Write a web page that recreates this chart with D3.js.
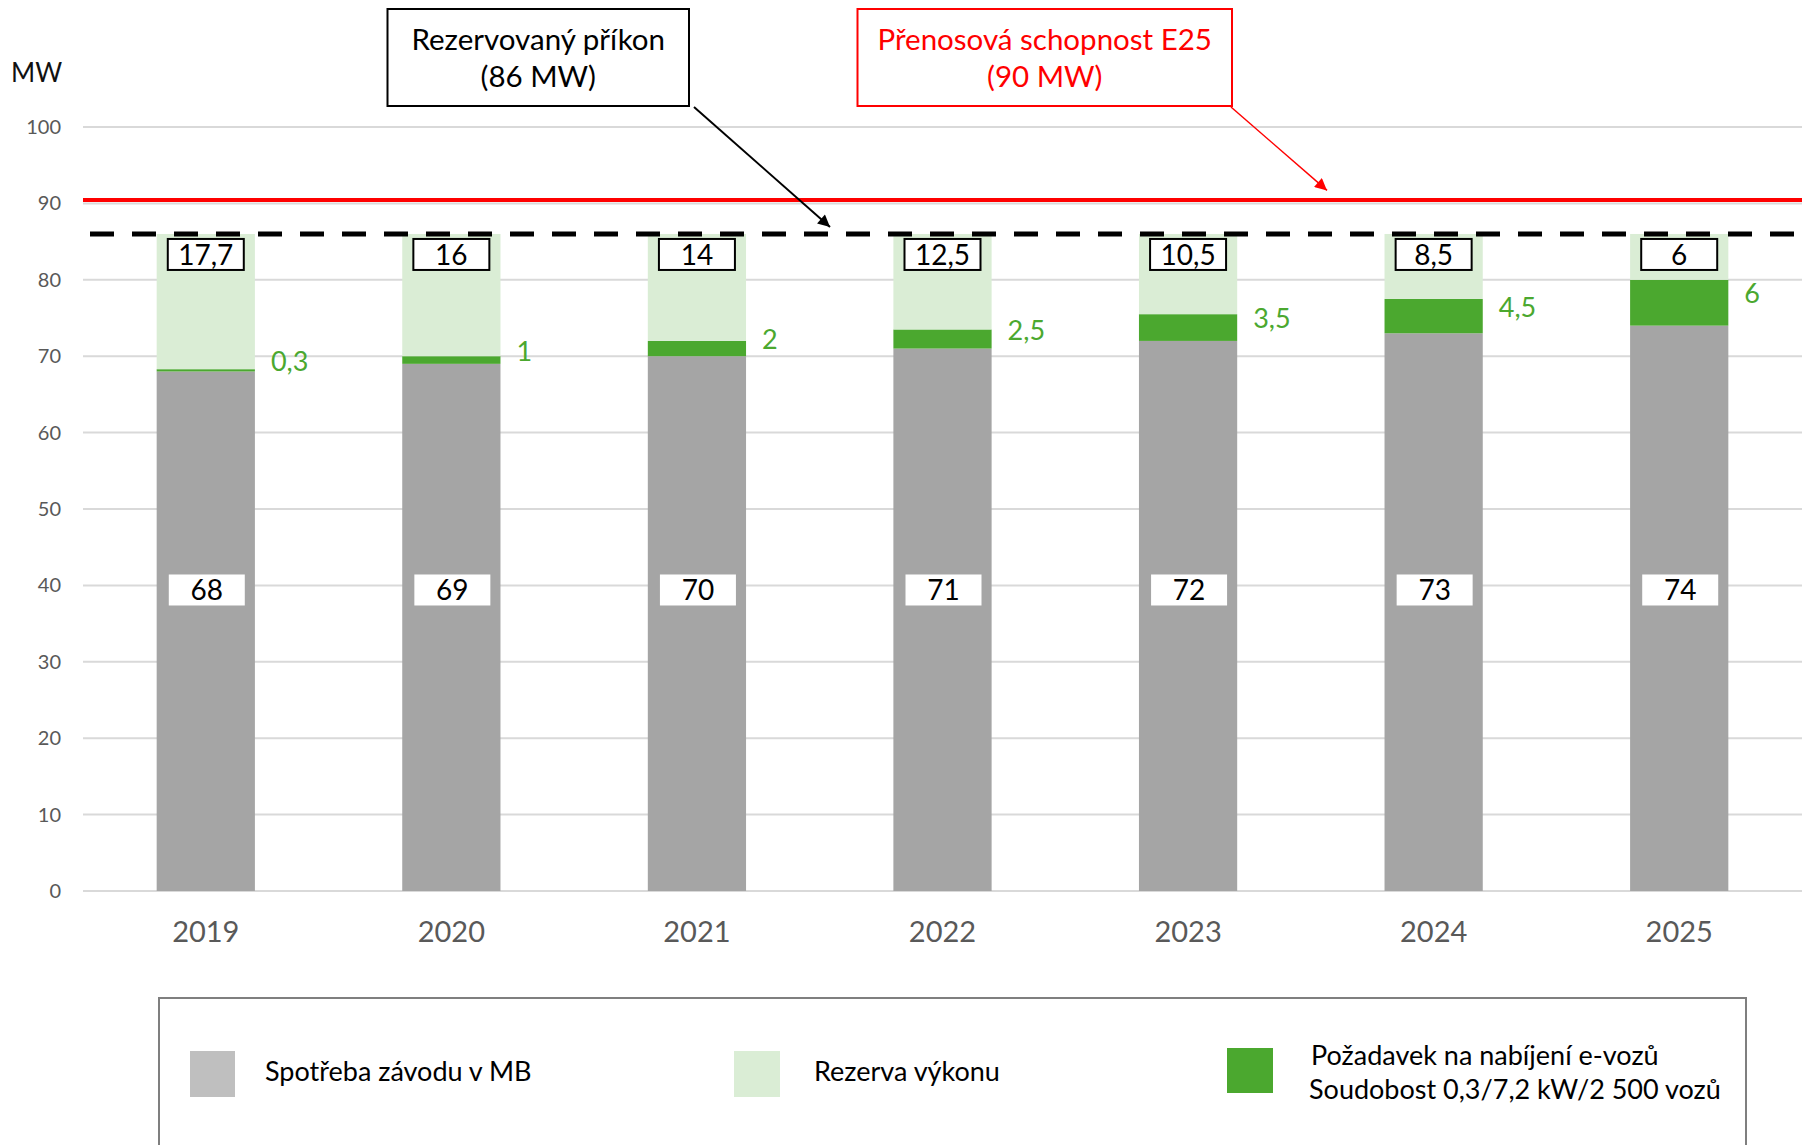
<!DOCTYPE html>
<html><head><meta charset="utf-8">
<script src="https://cdn.jsdelivr.net/npm/d3@7"></script>
<style>body{margin:0;background:#fff}svg{display:block;font-family:Lato,"Open Sans",sans-serif}</style>
</head><body><svg id="c" width="1802" height="1145"></svg>
<script>
const years = ["2019","2020","2021","2022","2023","2024","2025"];
const consumption = [68,69,70,71,72,73,74];
const charging = [0.3,1,2,2.5,3.5,4.5,6];
const reserve = [17.7,16,14,12.5,10.5,8.5,6];
const yTicks = [0,10,20,30,40,50,60,70,80,90,100];
const reservedPower = 86;
const transferCapacity = 90;
const seriesNames = ["Spotřeba závodu v MB","Rezerva výkonu","Požadavek na nabíjení e-vozů","Soudobost 0,3/7,2 kW/2 500 vozů"];
const annotReserved = ["Rezervovaný příkon","(86 MW)"];
const annotTransfer = ["Přenosová schopnost E25","(90 MW)"];

const COL_GREY="#A5A5A5", COL_LIGHT="#DAEDD5", COL_GREEN="#4BA82F";
const fmt = v => String(v).replace(".", ",");

const svg = d3.select("#c");
const W = 1802;
const y = d3.scaleLinear().domain([0,100]).range([891,127]);
const x = d3.scaleBand().domain(years).range([83,W]).paddingInner(0.6).paddingOuter(0.3);

// gridlines
svg.append("g").selectAll("line").data(yTicks).join("line")
  .attr("x1",83).attr("x2",W).attr("y1",d=>y(d)).attr("y2",d=>y(d))
  .attr("stroke","#D9D9D9").attr("stroke-width",2);

// y axis labels
const ya = svg.append("g").attr("transform","translate(83,0)")
  .call(d3.axisLeft(y).tickValues(yTicks).tickSize(0).tickPadding(22));
ya.select(".domain").remove();
ya.selectAll("text").attr("font-size",20).attr("fill","#595959").attr("font-family","Lato,sans-serif");

// x axis labels
const xa = svg.append("g").attr("transform","translate(0,891)")
  .call(d3.axisBottom(x).tickSize(0).tickPadding(30));
xa.select(".domain").remove();
xa.selectAll("text").attr("font-size",29).attr("fill","#595959").attr("font-family","Lato,sans-serif");

svg.append("text").attr("x",11).attr("y",82).attr("font-size",26).attr("fill","#111").text("MW");

// stacked bars
const rows = years.map((yr,i)=>({year:yr, consumption:consumption[i], charging:charging[i], reserve:reserve[i]}));
const keys = ["consumption","charging","reserve"];
const colors = {consumption:COL_GREY, charging:COL_GREEN, reserve:COL_LIGHT};
const stacked = d3.stack().keys(keys)(rows);
svg.append("g").selectAll("g").data(stacked).join("g").attr("fill",d=>colors[d.key])
  .selectAll("rect").data(d=>d).join("rect")
  .attr("x",d=>x(d.data.year)).attr("width",x.bandwidth())
  .attr("y",d=>y(d[1])).attr("height",d=>y(d[0])-y(d[1]));

// consumption labels (white boxes)
const labelLevel = 39.4;
const gl = svg.append("g").selectAll("g").data(rows).join("g")
  .attr("transform",d=>`translate(${x(d.year)+x.bandwidth()/2+1},${y(labelLevel)})`);
gl.append("rect").attr("x",-38).attr("y",-15.5).attr("width",76).attr("height",31).attr("fill","#fff");
gl.append("text").attr("text-anchor","middle").attr("dy","0.36em").attr("font-size",28).attr("fill","#000").text(d=>fmt(d.consumption));

// reserve labels (bordered boxes)
const rl = svg.append("g").selectAll("g").data(rows).join("g")
  .attr("transform",d=>`translate(${x(d.year)+x.bandwidth()/2},${y(reservedPower)+20.5})`);
rl.append("rect").attr("x",-38).attr("y",-15.5).attr("width",76).attr("height",31).attr("fill","#fff").attr("stroke","#000").attr("stroke-width",2);
rl.append("text").attr("text-anchor","middle").attr("dy","0.36em").attr("font-size",28).attr("fill","#000").text(d=>fmt(d.reserve));

// charging labels
svg.append("g").selectAll("text").data(rows).join("text")
  .attr("x",d=>x(d.year)+x.bandwidth()+16)
  .attr("y",d=>y(d.consumption + d.charging/2)-9)
  .attr("dy","0.36em").attr("font-size",27).attr("fill",COL_GREEN).text(d=>fmt(d.charging));

// transfer capacity line (red)
svg.append("line").attr("x1",83).attr("x2",W).attr("y1",y(transferCapacity)-3.5).attr("y2",y(transferCapacity)-3.5)
  .attr("stroke","#FF0000").attr("stroke-width",4);
// reserved power dashed line
svg.append("line").attr("x1",90).attr("x2",W).attr("y1",y(reservedPower)).attr("y2",y(reservedPower))
  .attr("stroke","#000").attr("stroke-width",5).attr("stroke-dasharray","24,18");

// arrow markers
const defs = svg.append("defs");
[["ah-black","#000"],["ah-red","#FF0000"]].forEach(([id,c])=>{
  defs.append("marker").attr("id",id).attr("viewBox","0 0 10 10").attr("refX",10).attr("refY",5)
    .attr("markerWidth",16).attr("markerHeight",12).attr("markerUnits","userSpaceOnUse").attr("orient","auto")
    .append("path").attr("d","M0,0L10,5L0,10z").attr("fill",c);
});

// annotation boxes
function annot(x0,x1,lines,color){
  const g = svg.append("g");
  g.append("rect").attr("x",x0).attr("y",9).attr("width",x1-x0).attr("height",97)
    .attr("fill","#fff").attr("stroke",color).attr("stroke-width",2);
  lines.forEach((t,i)=>g.append("text").attr("x",(x0+x1)/2).attr("y",39+i*37).attr("dy","0.36em")
    .attr("text-anchor","middle").attr("font-size",29.5).attr("fill",color).text(t));
}
annot(387.5,689,annotReserved,"#000");
annot(857.5,1232,annotTransfer,"#FF0000");
svg.append("line").attr("x1",694).attr("y1",107).attr("x2",830).attr("y2",y(reservedPower)-7)
  .attr("stroke","#000").attr("stroke-width",2).attr("marker-end","url(#ah-black)");
svg.append("line").attr("x1",1231).attr("y1",107).attr("x2",1327).attr("y2",y(transferCapacity)-13)
  .attr("stroke","#FF0000").attr("stroke-width",1.5).attr("marker-end","url(#ah-red)");

// legend
const lg = svg.append("g");
lg.append("rect").attr("x",159).attr("y",998).attr("width",1587).attr("height",200)
  .attr("fill","none").attr("stroke","#7F7F7F").attr("stroke-width",2);
lg.append("rect").attr("x",190).attr("y",1051).attr("width",45).attr("height",46).attr("fill","#BFBFBF");
lg.append("text").attr("x",265).attr("y",1071).attr("dy","0.36em").attr("font-size",27).text(seriesNames[0]);
lg.append("rect").attr("x",734).attr("y",1051).attr("width",46).attr("height",46).attr("fill",COL_LIGHT);
lg.append("text").attr("x",814).attr("y",1071).attr("dy","0.36em").attr("font-size",27).text(seriesNames[1]);
lg.append("rect").attr("x",1227).attr("y",1048).attr("width",46).attr("height",45).attr("fill",COL_GREEN);
lg.append("text").attr("x",1311).attr("y",1055).attr("dy","0.36em").attr("font-size",27).text(seriesNames[2]);
lg.append("text").attr("x",1309).attr("y",1089).attr("dy","0.36em").attr("font-size",27).text(seriesNames[3]);
</script></body></html>
